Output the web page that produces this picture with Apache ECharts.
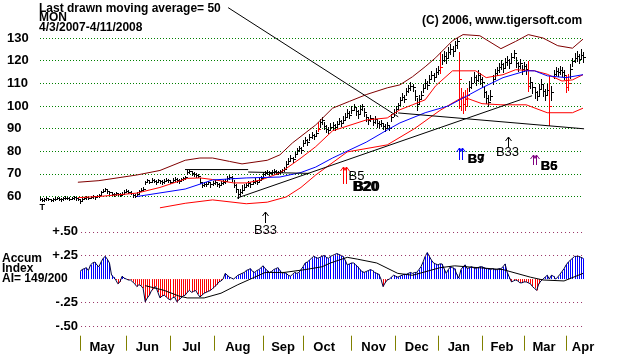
<!DOCTYPE html>
<html><head><meta charset="utf-8">
<script src="https://cdn.jsdelivr.net/npm/echarts@6/dist/echarts.min.js"></script>
<style>html,body{margin:0;padding:0;background:#fff}#c{width:620px;height:354px}</style>
</head><body><div id="c"></div>
<script>
// ---- price bars (one per trading day, day 0 = 4/3/2007) ----
const priceClose = [59.0,58.6,58.8,59.2,58.9,58.5,58.7,59.1,59.4,59.0,58.8,59.2,59.5,59.3,59.0,59.4,59.6,59.2,58.9,
58.2,58.8,59.3,59.6,59.4,59.8,60.1,59.7,60.2,60.6,
61.8,62.6,63.2,62.4,61.9,
61.2,60.9,61.4,61.1,60.8,61.3,
62.0,62.6,62.2,61.7,
60.7,60.4,61.2,
62.4,63.0,63.5,
66.2,67.1,66.6,67.4,67.0,66.5,67.2,66.8,66.3,66.9,67.5,67.1,66.6,67.3,67.8,67.2,66.9,67.6,68.0,68.4,
70.8,71.2,70.5,70.0,69.6,69.2,
66.5,65.2,65.6,
65.5,66.2,65.3,65.8,66.4,65.6,65.1,65.9,66.5,67.0,
68.2,68.8,68.0,
65.0,63.2,
61.0,61.8,63.0,
64.2,65.0,65.8,65.3,66.4,67.0,66.5,67.4,68.2,
69.8,70.5,71.0,70.4,70.9,71.4,70.8,
70.6,71.1,71.5,72.3,
74.5,75.8,77.2,76.4,78.6,
80.4,81.2,80.6,
83.5,85.0,84.2,86.4,
87.2,86.5,88.1,90.0,
92.8,94.0,
91.2,90.0,89.4,90.8,91.5,
90.6,92.0,93.4,92.5,94.0,
95.2,97.0,96.2,98.4,99.6,97.8,
96.5,98.8,99.8,97.2,
95.0,93.6,94.8,93.0,94.2,92.5,
91.8,92.6,91.0,90.4,91.6,
90.2,
95.0,97.2,98.6,100.2,
102.6,104.0,103.2,106.5,
107.8,109.0,108.2,
104.5,101.0,103.2,105.0,
108.0,110.2,109.4,
112.0,113.8,112.6,114.9,116.0,
117.0,
120.5,122.0,121.2,123.8,125.0,124.2,126.8,
128.5,
112.0,104.0,101.0,103.0,105.0,
108.5,110.2,112.8,111.5,113.6,112.0,110.5,
106.0,103.5,101.8,104.6,
111.8,114.5,115.8,
117.2,118.6,116.9,119.5,120.4,118.8,121.6,
123.5,
119.0,117.6,118.8,116.2,117.5,
116.5,
109.0,
110.5,108.2,106.0,104.2,107.5,109.8,106.8,105.0,107.2,
100.0,
106.0,
114.2,115.6,114.8,116.0,115.2,113.8,
108.5,110.0,
116.5,119.8,
121.2,122.0,120.8,122.6,121.5];
const priceHigh = [59.6,59.3,59.4,59.7,59.5,59.1,59.3,59.6,60.0,59.7,59.4,59.8,60.1,59.9,59.6,60.0,60.2,59.8,59.5,
59.0,59.4,59.9,60.2,60.0,60.4,60.7,60.3,60.8,61.3,
62.4,63.3,63.9,63.1,62.5,
61.8,61.5,62.0,61.7,61.4,61.9,
62.7,63.2,62.9,62.4,
61.5,61.2,61.8,
63.0,63.7,64.2,
67.0,67.8,67.4,68.1,67.8,67.3,67.9,67.5,67.1,67.6,68.2,67.9,67.4,68.0,68.5,68.0,67.7,68.3,68.8,69.2,
71.5,71.9,71.3,70.8,70.4,70.0,
68.0,66.4,66.5,
66.4,67.0,66.2,66.7,67.2,66.5,66.0,66.8,67.4,67.9,
69.0,69.6,68.9,
67.5,65.5,
63.0,63.5,65.0,
65.3,66.0,66.8,66.4,67.4,68.0,67.5,68.4,69.2,
70.6,71.3,71.8,71.2,71.7,72.2,71.6,
71.4,71.9,72.3,73.2,
75.5,76.9,78.3,77.5,79.8,
81.6,82.4,81.8,
84.8,86.3,85.5,87.6,
88.5,87.8,89.4,93.0,
94.3,95.2,
93.0,91.6,90.9,92.3,92.9,
92.1,93.5,94.8,94.0,95.4,
96.8,98.5,97.8,100.0,100.8,99.5,
98.2,100.3,101.0,99.0,
96.6,95.2,96.2,94.6,95.6,94.0,
93.2,94.0,92.6,91.8,93.0,
91.5,
96.4,98.6,100.0,101.5,
104.0,105.6,104.8,108.0,
109.4,110.6,109.8,
107.0,103.6,105.0,106.6,
109.8,112.0,111.2,
113.8,115.6,114.4,116.8,117.6,
124.0,
122.8,124.2,123.6,126.0,127.2,126.5,128.8,
130.2,
124.0,108.0,106.0,107.0,108.0,
111.0,112.6,115.2,113.8,115.8,114.4,112.8,
109.0,106.5,104.8,107.0,
113.6,116.4,117.2,
119.0,120.5,118.8,121.2,122.2,120.6,123.4,
124.8,
121.6,119.6,120.6,118.2,119.4,
118.5,
120.0,
112.6,110.5,108.4,106.6,109.8,112.0,109.2,107.4,109.6,
113.0,
109.0,
116.0,117.4,116.6,117.8,117.0,115.8,
113.5,114.0,
118.6,121.0,
123.4,124.2,123.0,125.0,123.8];
const priceLow = [58.3,58.0,58.2,58.5,58.3,57.9,58.1,58.5,58.8,58.4,58.2,58.6,58.9,58.7,58.4,58.8,59.0,58.6,58.3,
57.0,58.1,58.7,59.0,58.8,59.2,59.5,59.1,59.6,60.0,
61.0,61.9,62.5,61.7,61.2,
60.6,60.3,60.8,60.5,60.2,60.7,
61.4,61.9,61.6,61.0,
60.0,59.8,60.5,
61.6,62.3,62.8,
65.4,66.3,65.8,66.6,66.2,65.7,66.4,66.0,65.5,66.1,66.7,66.3,65.8,66.5,67.0,66.4,66.1,66.8,67.2,67.6,
69.8,70.3,69.7,69.2,68.8,68.4,
65.8,64.3,64.6,
64.6,65.3,64.4,64.9,65.5,64.7,64.2,65.0,65.6,66.1,
67.2,67.9,67.0,
64.2,62.0,
59.3,60.2,61.5,
63.2,64.0,64.8,64.3,65.4,66.0,65.5,66.4,67.2,
68.9,69.6,70.1,69.5,70.0,70.5,69.9,
69.8,70.3,70.7,71.4,
73.2,74.6,76.0,75.2,77.4,
79.2,80.0,79.4,
82.2,83.7,82.9,85.1,
85.9,85.2,86.8,88.8,
90.5,92.2,
89.8,88.6,88.0,89.3,90.0,
89.4,90.6,92.0,91.0,92.6,
93.6,95.5,94.6,96.8,98.0,96.0,
94.8,97.0,98.0,95.4,
93.4,92.0,93.2,91.4,92.6,90.8,
90.2,91.0,89.6,89.0,90.2,
89.2,
93.2,95.6,97.0,98.6,
101.0,102.4,101.6,104.8,
106.0,107.2,106.4,
102.6,98.0,100.8,103.0,
106.2,108.4,107.6,
110.2,112.0,110.8,113.0,114.2,
114.6,
118.6,119.8,119.0,121.5,122.8,122.0,124.4,
125.5,
99.0,98.0,97.0,98.0,100.0,
106.5,108.0,110.4,109.2,111.2,109.8,108.2,
104.0,101.2,100.0,102.4,
109.6,112.4,113.6,
115.0,116.4,114.8,117.4,118.2,116.6,119.4,
121.0,
117.0,115.4,116.6,114.2,115.4,
114.2,
106.6,
108.0,105.8,103.4,102.4,105.0,107.4,104.4,102.8,104.8,
91.6,
102.7,
112.4,113.8,113.0,114.2,113.4,111.8,
106.2,107.0,
112.5,117.6,
119.2,120.0,118.8,120.6,119.5];
const redDays = [132,190,199,200,201,202,203,232,242,250,251];

// ---- bands / moving averages (day index, value) ----
const upperBandDays = [18,28,46,57,69,76,82,90,96,108,114,120,131,139,147,155,165,171,177,183,188,196,201,209,219,226,232,239,246,253,258];
const upperBandVals = [66.3,67.0,69.5,71.5,76.0,77.0,77.0,75.5,74.4,76.0,78.4,83.7,91.6,99.0,102.0,105.0,108.0,109.3,112.9,117.3,121.3,128.8,131.5,131.0,125.3,128.5,131.5,130.0,126.6,125.5,129.5];
const midBandDays = [18,28,46,57,70,76,82,92,98,105,114,124,131,139,155,165,171,177,183,188,196,207,212,220,226,235,241,248,253,258];
const midBandVals = [59.5,60.0,61.5,64.0,68.0,68.2,67.5,66.0,66.0,67.3,70.4,77.0,82.0,89.0,93.8,94.7,98.3,100.5,102.7,108.9,115.5,115.5,112.5,113.8,116.0,115.5,114.0,111.0,111.5,113.8];
const lowerBandDays = [57,69,82,98,108,117,124,131,146,165,178,190,201,210,219,231,241,253,258];
const lowerBandVals = [55.0,57.0,58.5,56.8,57.5,59.8,64.0,69.5,79.7,82.8,90.0,98.0,104.0,101.0,100.5,100.5,97.0,97.0,99.0];
const ma50Days = [46,69,82,98,114,124,131,139,155,165,171,183,194,210,220,231,235,241,250,258];
const ma50Vals = [60.0,63.3,67.3,68.2,68.6,70.6,73.0,77.0,84.0,89.4,92.5,97.0,100.0,108.0,112.5,115.5,115.5,113.3,112.5,113.8];

// ---- drawn trend lines (start day, start value, end day, end value) ----
const trendX1 = [89.4, 93.6, 68.9, 98.9, 170.2];
const trendY1 = [143.4, 59.3, 71.9, 70.8, 96.9];
const trendX2 = [170.2, 233.8, 98.9, 128.0, 258.5];
const trendY2 = [95.2, 104.5, 71.9, 70.2, 89.9];

// ---- signals ----
const sigDays = [0, 107, 144, 199.2, 222.4, 234.3];
const sigVals = [57.2, 53.1, 73.0, 81.5, 86.3, 78.4];
const sigLabels = ['T', 'B33', 'B5', 'B9', 'B33', 'B6'];
const sigLabels2 = ['', '', 'B20', 'B7', '', 'B5'];

// ---- accumulation index ----
const aiStart = 19;
const aiVals = [0.08,0.10,0.11,0.12,0.09,0.15,0.17,0.18,0.15,0.13,
0.18,0.22,0.24,0.21,0.17,0.04,0.02,-0.01,-0.05,-0.03,
0.03,0.01,0.00,-0.01,-0.01,-0.03,-0.05,-0.08,-0.06,-0.07,
-0.10,-0.24,-0.20,-0.17,-0.12,-0.10,-0.08,-0.14,-0.20,-0.18,
-0.17,-0.19,-0.21,-0.22,-0.20,-0.19,-0.24,-0.22,-0.20,-0.18,
-0.17,-0.14,-0.12,-0.14,-0.13,-0.12,-0.16,-0.19,-0.17,-0.15,
-0.14,-0.13,-0.12,-0.10,-0.08,-0.06,-0.03,-0.02,0.00,0.06,
0.04,0.02,0.01,0.00,0.02,0.04,0.05,0.06,0.07,0.09,
0.10,0.11,0.08,0.07,0.09,0.10,0.12,0.14,0.11,0.09,
0.07,0.08,0.10,0.11,0.12,0.09,0.06,0.07,0.06,0.04,
0.03,0.05,0.07,0.06,0.07,0.10,0.13,0.17,0.18,0.20,
0.22,0.24,0.23,0.22,0.23,0.24,0.25,0.23,0.22,0.24,
0.25,0.26,0.27,0.26,0.25,0.24,0.20,0.15,0.16,0.17,
0.17,0.15,0.13,0.10,0.08,0.07,0.08,0.09,0.10,0.09,
0.07,0.06,0.05,0.00,-0.08,-0.04,-0.01,0.00,0.02,0.04,
0.03,0.02,0.03,0.04,0.05,0.05,0.06,0.07,0.06,0.07,
0.07,0.10,0.13,0.18,0.24,0.28,0.24,0.20,0.17,0.16,
0.15,0.16,0.16,0.11,0.06,0.10,0.13,0.12,0.11,0.05,
0.01,0.10,0.13,0.15,0.11,0.12,0.13,0.12,0.11,0.12,
0.13,0.13,0.12,0.11,0.11,0.10,0.11,0.10,0.10,0.11,
0.11,0.13,0.16,0.07,0.02,-0.03,-0.02,-0.01,-0.02,-0.04,
-0.04,-0.03,-0.03,-0.04,-0.05,-0.08,-0.10,-0.12,-0.05,-0.02,
0.00,0.02,0.04,0.00,0.04,0.03,0.00,0.02,0.05,0.08,
0.11,0.15,0.18,0.20,0.22,0.24,0.24,0.24,0.23,0.22];
const aiMaDays = [50,59,66,70,78,86,94,102,107,116,126,134,138,146,151,160,170,177,190,197,220,233,239,249,258];
const aiMaVals = [-0.07,-0.12,-0.18,-0.20,-0.20,-0.15,-0.06,0.02,0.07,0.07,0.10,0.13,0.17,0.23,0.21,0.17,0.06,0.04,0.12,0.14,0.10,0.02,-0.01,-0.02,0.06];

// ---- axes ----
const monthTickDays = [19,41,62,83,106,125,148,169,189,210,230,250];
const monthLabelDays = [29.5,51,72,94,115.5,135,158.5,179,199,219.5,239.5,258];
const monthNames = ['May','Jun','Jul','Aug','Sep','Oct','Nov','Dec','Jan','Feb','Mar','Apr'];
const aiTickVals = [0.5,0.25,-0.25,-0.5];
const aiTickLabels = ['+.50','+.25','-.25','-.50'];

// ================= rendering =================
const FONT = '"Liberation Sans", Arial, sans-serif';
const zip = (d, v) => d.map((x, i) => [x, v[i]]);
const nBars = Math.min(priceClose.length, priceHigh.length, priceLow.length);
const barData = [];
for (let i = 0; i < nBars; i++) barData.push([i, priceLow[i], priceHigh[i], priceClose[i]]);
const aiData = aiVals.map((v, k) => [aiStart + k, v]);

const sigStyle = [
  {arrow: 0, color: '#000', dbl: false, t: {dx: -1, dy: 0.5, font: 'bold 9px ' + FONT, align: 'left'}},
  {arrow: 11, color: '#000', dbl: false, t: {dx: 0, dy: 11.5, font: '13px ' + FONT, align: 'center'}},
  {arrow: 17, color: '#ff0000', dbl: true, t: {dx: 5, dy: 2.5, font: '13px ' + FONT, align: 'left'},
    t2: {dx: 9, dy: 13.3, font: 'bold 14px ' + FONT, dup: 1.5}},
  {arrow: 12, color: '#0000ff', dbl: true, t: {dx: 8, dy: 4.5, font: 'bold 13px ' + FONT, align: 'left'},
    t2: {dx: 8.5, dy: 4.5, font: 'bold 13px ' + FONT, dup: 0}},
  {arrow: 10, color: '#000', dbl: false, t: {dx: -1, dy: 8.5, font: '13px ' + FONT, align: 'center'}},
  {arrow: 10, color: '#800080', dbl: true, t: {dx: 7, dy: 4.5, font: 'bold 13px ' + FONT, align: 'left'},
    t2: {dx: 7.5, dy: 4.5, font: 'bold 13px ' + FONT, dup: 0}}
];

function lineS(days, vals, color, xi, yi, z) {
  return {type: 'line', xAxisIndex: xi, yAxisIndex: yi, data: zip(days, vals), symbol: 'none',
    clip: false, silent: true, z: z || 3, lineStyle: {color: color, width: 1}};
}

const chart = echarts.init(document.getElementById('c'), null, {renderer: 'canvas', width: 620, height: 354});
chart.setOption({
  animation: false,
  backgroundColor: '#ffffff',
  grid: [
    {left: 40, width: 543, top: 38, height: 158.5},
    {left: 40, width: 543, top: 222.4, height: 113.3}
  ],
  xAxis: [
    {gridIndex: 0, type: 'value', min: 0, max: 258, show: false},
    {gridIndex: 1, type: 'value', min: 0, max: 258, position: 'bottom',
      axisLine: {show: false, onZero: false}, splitLine: {show: false},
      axisTick: {show: true, customValues: monthTickDays, length: 15, lineStyle: {color: '#808000', width: 1}},
      axisLabel: {show: true, customValues: monthLabelDays, margin: 5, color: '#000',
        fontFamily: FONT, fontWeight: 'bold', fontSize: 13, showMaxLabel: true, hideOverlap: false,
        formatter: v => { const k = monthLabelDays.indexOf(v); return k >= 0 ? monthNames[k] : ''; }}}
  ],
  yAxis: [
    {gridIndex: 0, type: 'value', min: 60, max: 130, interval: 10,
      axisLine: {show: false}, axisTick: {show: false},
      axisLabel: {align: 'left', margin: 33, color: '#000', fontFamily: FONT, fontWeight: 'bold', fontSize: 13},
      splitLine: {show: true, lineStyle: {color: '#008000', type: [1, 2], width: 1}}},
    {gridIndex: 1, type: 'value', min: -0.6, max: 0.6, offset: -39,
      axisLine: {show: false, onZero: false}, axisTick: {show: false}, splitLine: {show: false},
      axisLabel: {customValues: aiTickVals, margin: 1, color: '#000', fontFamily: FONT, fontWeight: 'bold', fontSize: 13,
        formatter: v => { const k = aiTickVals.indexOf(v); return k >= 0 ? aiTickLabels[k] : ''; }}}
  ],
  graphic: [
    {type: 'text', x: 39, y: 2.5, style: {text: 'Last drawn moving average= 50', font: 'bold 12px ' + FONT, fill: '#000', verticalAlign: 'top'}},
    {type: 'text', x: 39, y: 12, style: {text: 'MON', font: 'bold 12px ' + FONT, fill: '#000', verticalAlign: 'top'}},
    {type: 'text', x: 39, y: 21.5, style: {text: '4/3/2007-4/11/2008', font: 'bold 12px ' + FONT, fill: '#000', verticalAlign: 'top'}},
    {type: 'text', x: 422, y: 15, style: {text: '(C) 2006, www.tigersoft.com', font: 'bold 12px ' + FONT, fill: '#000', verticalAlign: 'top'}},
    {type: 'text', x: 2, y: 253, style: {text: 'Accum', font: 'bold 12px ' + FONT, fill: '#000', verticalAlign: 'top'}},
    {type: 'text', x: 2, y: 263, style: {text: 'Index', font: 'bold 12px ' + FONT, fill: '#000', verticalAlign: 'top'}},
    {type: 'text', x: 2, y: 273, style: {text: 'AI= 149/200', font: 'bold 12px ' + FONT, fill: '#000', verticalAlign: 'top'}}
  ],
  series: [
    {type: 'custom', xAxisIndex: 0, yAxisIndex: 0, clip: false, silent: true, z: 2,
      data: barData, encode: {x: 0, y: [1, 2, 3]},
      renderItem: function (params, api) {
        const d = api.value(0);
        const pLo = api.coord([d, api.value(1)]);
        const pHi = api.coord([d, api.value(2)]);
        const pC = api.coord([d, api.value(3)]);
        const red = redDays.indexOf(d) >= 0;
        const col = red ? '#ff0000' : '#000000';
        const x = Math.round(pLo[0]) + 0.5;
        const yc = Math.round(pC[1]) + 0.5;
        return {type: 'group', children: [
          {type: 'line', shape: {x1: x, y1: Math.round(pHi[1]), x2: x, y2: Math.round(pLo[1]) + 1},
            style: {stroke: col, lineWidth: 1}},
          {type: 'line', shape: {x1: x, y1: yc, x2: x + 2.5, y2: yc}, style: {stroke: col, lineWidth: 1}}
        ]};
      }},
    lineS(upperBandDays, upperBandVals, '#800000', 0, 0),
    lineS(midBandDays, midBandVals, '#ff0000', 0, 0),
    lineS(lowerBandDays, lowerBandVals, '#ff0000', 0, 0),
    lineS(ma50Days, ma50Vals, '#0000ff', 0, 0),
    {type: 'custom', xAxisIndex: 0, yAxisIndex: 0, clip: false, silent: true, z: 4,
      data: trendX1.map((x, i) => [x, trendY1[i], trendX2[i], trendY2[i]]), encode: {x: [0, 2], y: [1, 3]},
      renderItem: function (params, api) {
        const a = api.coord([api.value(0), api.value(1)]);
        const b = api.coord([api.value(2), api.value(3)]);
        return {type: 'line', shape: {x1: a[0], y1: a[1], x2: b[0], y2: b[1]}, style: {stroke: '#000', lineWidth: 1}};
      }},
    {type: 'custom', xAxisIndex: 0, yAxisIndex: 0, clip: false, silent: true, z: 5,
      data: sigDays.map((d, i) => [d, sigVals[i], i]), encode: {x: 0, y: 1},
      renderItem: function (params, api) {
        const i = api.value(2);
        const st = sigStyle[i];
        const p = api.coord([api.value(0), api.value(1)]);
        const x = Math.round(p[0]) + 0.5, y = Math.round(p[1]);
        const kids = [];
        if (st.arrow > 0) {
          const xs = st.dbl ? [x, x + 3] : [x];
          xs.forEach(ax => {
            kids.push({type: 'polyline', shape: {points: [[ax, y], [ax, y + st.arrow]]}, style: {stroke: st.color, lineWidth: 1, fill: null}});
            kids.push({type: 'polyline', shape: {points: [[ax - 3, y + 4], [ax, y], [ax + 3, y + 4]]}, style: {stroke: st.color, lineWidth: 1, fill: null}});
          });
        }
        kids.push({type: 'text', x: x + st.t.dx, y: y + st.t.dy,
          style: {text: sigLabels[i], font: st.t.font, fill: '#000', align: st.t.align, verticalAlign: 'top'}});
        if (st.t2 && sigLabels2[i]) {
          kids.push({type: 'text', x: x + st.t2.dx, y: y + st.t2.dy,
            style: {text: sigLabels2[i], font: st.t2.font, fill: '#000', align: 'left', verticalAlign: 'top'}});
          if (st.t2.dup) kids.push({type: 'text', x: x + st.t2.dx + st.t2.dup, y: y + st.t2.dy,
            style: {text: sigLabels2[i], font: st.t2.font, fill: '#000', align: 'left', verticalAlign: 'top'}});
        }
        return {type: 'group', children: kids};
      }},
    {type: 'custom', xAxisIndex: 1, yAxisIndex: 1, clip: false, silent: true, z: 2,
      data: aiData, encode: {x: 0, y: 1},
      renderItem: function (params, api) {
        const d = api.value(0), v = api.value(1);
        const p0 = api.coord([d, 0]), p1 = api.coord([d, v]);
        const x = Math.round(p0[0]) + 0.5;
        return {type: 'line', shape: {x1: x, y1: p0[1], x2: x, y2: p1[1]},
          style: {stroke: v >= 0 ? '#0000ff' : '#ff0000', lineWidth: 1}};
      }},
    {type: 'line', xAxisIndex: 1, yAxisIndex: 1, data: aiData, symbol: 'none', clip: false, silent: true, z: 3,
      lineStyle: {color: '#000040', width: 1},
      markLine: {symbol: 'none', silent: true, label: {show: false},
        lineStyle: {color: '#993366', type: [1, 3], width: 1},
        data: aiTickVals.map(v => [{coord: [19.5, v]}, {coord: [258, v]}])}},
    lineS(aiMaDays, aiMaVals, '#000000', 1, 1, 4)
  ]
});
</script>
</body></html>
